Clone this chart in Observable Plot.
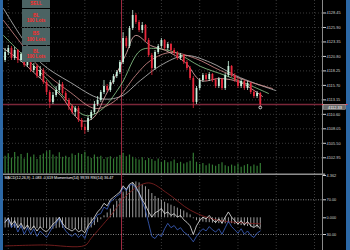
<!DOCTYPE html>
<html><head><meta charset="utf-8">
<script src="https://cdn.jsdelivr.net/npm/d3@7"></script>
<script src="https://cdn.jsdelivr.net/npm/@observablehq/plot@0.6"></script>
<style>
html,body{margin:0;padding:0;background:#000;}
#wrap{position:relative;width:350px;height:250px;background:#000;overflow:hidden;font-family:"Liberation Sans",Arial,sans-serif;}
#wrap svg{position:absolute;left:3px;}
.edge{position:absolute;top:0;height:250px;background:#2c68a6;}
.btn{position:absolute;left:22px;width:28px;background:#4b6363;color:#ff2b2b;font-weight:bold;font-size:4.6px;line-height:5.5px;text-align:center;display:flex;flex-direction:column;justify-content:center;}
</style></head>
<body><div id="wrap">
<div class="edge" style="left:0;width:3px"></div>
<div class="edge" style="left:346px;width:4px"></div>
</div>
<script>
// ---- data ----
const opens = [4120.08,4121.49,4122.20,4120.44,4121.84,4120.08,4121.14,4119.20,4120.08,4118.32,4119.03,4117.26,4118.32,4116.21,4114.45,4112.69,4113.92,4114.80,4115.86,4114.27,4113.04,4111.98,4110.93,4111.63,4109.52,4108.28,4107.75,4109.87,4110.93,4112.33,4113.04,4114.45,4115.50,4114.80,4116.21,4117.26,4117.97,4119.73,4123.96,4122.55,4125.72,4128.01,4126.78,4125.37,4126.25,4123.61,4120.96,4118.67,4121.49,4122.55,4123.61,4122.20,4122.90,4121.84,4121.32,4120.44,4120.96,4119.73,4118.67,4116.91,4112.69,4115.15,4116.56,4117.44,4116.74,4117.62,4116.56,4115.50,4116.74,4115.15,4117.44,4119.03,4117.44,4116.56,4115.50,4116.38,4115.15,4116.03,4114.45,4113.74,4114.27];
const closes = [4121.49,4122.20,4120.44,4121.84,4120.08,4121.14,4119.20,4120.08,4118.32,4119.03,4117.26,4118.32,4116.21,4114.45,4112.69,4113.92,4114.80,4115.86,4114.27,4113.04,4111.98,4110.93,4111.63,4109.52,4108.28,4107.75,4109.87,4110.93,4112.33,4113.04,4114.45,4115.50,4114.80,4116.21,4117.26,4117.97,4119.73,4123.96,4122.55,4125.72,4128.01,4126.78,4125.37,4126.25,4123.61,4120.96,4118.67,4121.49,4122.55,4123.61,4122.20,4122.90,4121.84,4121.32,4120.44,4120.96,4119.73,4118.67,4116.91,4112.69,4115.15,4116.56,4117.44,4116.74,4117.62,4116.56,4115.50,4116.74,4115.15,4117.44,4119.03,4117.44,4116.56,4115.50,4116.38,4115.15,4116.03,4114.45,4113.74,4114.27,4112.33];
const highs = [4122.20,4122.72,4122.55,4122.37,4122.02,4121.49,4121.49,4120.61,4120.44,4119.55,4119.38,4119.03,4118.67,4116.56,4114.80,4114.45,4115.50,4116.56,4116.21,4114.62,4113.39,4112.33,4111.98,4111.98,4109.87,4108.81,4110.22,4111.28,4112.86,4113.74,4114.80,4116.56,4115.86,4116.56,4117.62,4118.32,4120.08,4125.01,4124.31,4126.07,4128.89,4128.36,4127.13,4126.78,4126.42,4123.96,4121.32,4121.84,4122.90,4123.96,4123.78,4123.25,4123.08,4122.20,4121.67,4121.32,4121.14,4120.08,4119.03,4117.26,4115.50,4116.91,4117.79,4117.79,4117.97,4117.79,4116.91,4117.09,4116.91,4117.79,4119.91,4119.20,4117.79,4116.91,4116.74,4116.56,4116.38,4116.21,4114.80,4114.62,4114.45];
const lows = [4119.73,4120.96,4120.08,4120.08,4119.55,4119.73,4118.85,4118.85,4117.97,4117.97,4116.91,4116.91,4115.86,4113.92,4111.63,4112.33,4113.57,4114.27,4113.92,4112.51,4111.28,4110.57,4110.22,4109.16,4107.75,4107.05,4107.40,4109.52,4110.57,4111.98,4112.69,4114.09,4114.45,4114.45,4115.86,4116.91,4117.62,4119.38,4122.20,4122.20,4125.37,4126.42,4125.01,4124.84,4123.25,4120.61,4117.44,4118.32,4121.14,4122.20,4121.84,4121.84,4121.49,4120.96,4120.08,4120.08,4119.38,4118.32,4116.56,4111.63,4112.33,4114.80,4116.21,4116.38,4116.38,4116.21,4115.15,4115.15,4114.80,4114.80,4117.09,4117.09,4116.21,4115.15,4115.15,4114.80,4114.80,4114.09,4113.39,4113.39,4111.81];
const volumes = [62,70,55,75,60,68,52,72,58,66,50,64,70,78,82,66,60,74,58,62,56,70,64,72,68,76,60,54,66,58,62,50,56,60,52,58,64,72,60,66,58,52,48,56,46,54,50,44,52,40,46,38,42,48,36,40,34,38,44,72,40,32,36,28,34,30,26,32,38,28,24,30,26,34,22,28,32,24,30,26,36];
const ma1Idx = [-0.5,4.8,11.1,20.5,29.9,36.2,42.4,48.7,56.5,64.4,72.2,78.5,84.8];
const ma1Val = [4129.24,4124.49,4119.73,4116.21,4113.39,4113.74,4116.56,4119.20,4120.96,4119.73,4117.44,4116.03,4114.80];
const ma2Idx = [-0.5,4.8,11.1,20.5,28.3,34.6,40.9,45.6,51.8,59.7,67.5,75.4,83.8];
const ma2Val = [4127.13,4123.25,4118.67,4114.45,4111.63,4113.04,4117.44,4120.08,4121.49,4120.44,4118.32,4116.56,4115.15];
const ma3Idx = [-0.5,4.8,11.1,18.9,25.2,29.9,36.2,42.4,47.1,53.4,61.3,69.1,76.9,82.6];
const ma3Val = [4124.49,4121.49,4117.97,4113.39,4110.40,4111.28,4115.68,4121.84,4122.20,4121.49,4119.03,4117.44,4115.68,4114.27];
const ma4Idx = [-0.5,4.8,11.1,17.4,23.6,27.4,31.5,37.7,40.9,45.6,50.3,56.5,61.3,67.5,73.8,80.7];
const ma4Val = [4122.20,4120.08,4116.91,4113.92,4109.52,4109.87,4113.92,4120.96,4124.49,4122.73,4121.84,4119.73,4116.56,4116.91,4116.21,4113.74];
const macdHist = [-1.05,-1.0,-1.05,-1.08,-1.1,-1.12,-1.15,-1.12,-1.15,-1.1,-1.12,-1.08,-1.1,-1.15,-1.2,-1.18,-1.12,-1.05,-1.08,-1.1,-1.15,-1.2,-1.22,-1.25,-1.28,-1.3,-1.2,-1.05,
 -0.8,-0.5,-0.2,0.2,0.5,0.9,1.3,1.7,2.0,2.6,2.9,3.3,3.6,3.7,3.6,3.4,3.2,2.9,2.5,2.2,2.0,1.8,1.6,1.45,1.3,1.15,1.0,0.85,0.7,0.5,0.3,-0.1,-0.3,-0.4,-0.45,-0.5,-0.5,-0.55,-0.6,-0.6,-0.65,-0.62,-0.55,-0.6,-0.68,-0.75,-0.8,-0.85,-0.9,-0.95,-1.0,-1.05,-1.083];
const signalIdx = [0,12,25,27,33,39,45,51,58,66,80];
const signalVal = [-2.9,-2.8,-2.85,-2.1,0.2,2.6,3.6,2.5,0.8,-0.2,-0.619];
const rsiVals = [44,49,41,46,38,43,36,41,35,40,34,39,35,33,37,42,45,50,43,38,36,34,37,33,35,32,40,45,
 50,56,60,66,63,70,73,76,79,86,82,88,90,85,78,70,64,56,50,55,57,60,54,56,52,54,50,52,47,44,40,30,40,46,50,48,52,47,44,48,43,50,56,50,46,42,46,41,45,40,38,41,36.47];
const momVals = [100.02,100.04,99.96,100.0,99.92,99.98,99.9,99.96,99.9,99.95,99.88,99.93,99.9,99.87,99.92,99.97,100.0,100.05,99.98,99.93,99.9,99.88,99.91,99.87,99.9,99.86,99.95,99.99,
 100.03,100.08,100.09,100.15,100.13,100.2,100.22,100.25,100.27,100.33,100.3,100.35,100.36,100.32,100.28,100.2,100.12,100.0,99.88,99.86,99.9,99.88,99.95,100.0,99.96,99.98,99.94,99.96,99.92,99.9,99.87,99.83,99.88,99.92,99.95,99.93,99.97,99.94,99.92,99.95,99.9,99.96,100.02,99.97,99.94,99.91,99.95,99.9,99.93,99.89,99.87,99.91,99.93];
const priceTicks = [4102.95,4105.50,4108.05,4110.60,4113.15,4115.70,4118.25,4120.80,4123.35,4125.90,4128.45];
const macdTicks = [4.362,0];
const macdTickLabels = ["4.362","0.000"];
const rsiTicks = [70,30];
const rsiTickLabels = ["70.00","30.00"];
const indicatorLabel = "MACD(12,26,9) -1.083 -0.619 Momentum(14) 99.93 RSI(14) 36.47";
const buttonLines = [["SELL"],["BL","100 Lots"],["BS","100 Lots"],["BL","100 Lots"]];
const markerIndex = 36.5;
const gridIdx = [1,13,25,37,49,61,73,85,97];

// ---- tables ----
const candles = opens.map((o,i)=>({i, open:o, close:closes[i], high:highs[i], low:lows[i], up: closes[i] >= o}));
const lastPrice = closes[closes.length-1];
const vols = volumes.map((v,i)=>({i, v}));
const hist = macdHist.map((v,i)=>({i, v}));
const sig = signalIdx.map((x,k)=>({i:x, v:signalVal[k]}));
const rsi = rsiVals.map((v,i)=>({i, v}));
const mom = momVals.map((v,i)=>({i, v}));
const mas = [[ma1Idx,ma1Val,"#c4c4c4"],[ma2Idx,ma2Val,"#d98e8e"],[ma3Idx,ma3Val,"#8fcf8f"],[ma4Idx,ma4Val,"#ecb4b4"]];

// ---- layout ----
const style = {background:"transparent", color:"#d0d0d0", fontFamily:"Liberation Sans, Arial, sans-serif", fontSize:"3.9px", overflow:"visible"};
const common = {width:343, marginLeft:0, marginRight:24, marginTop:0, marginBottom:0, style};
const xs = {type:"linear", domain:[-0.5,99.5], axis:null};
const grid = {stroke:"#3a3a3a", strokeDasharray:"1,2"};
const upC = "#c9f2de", dnC = "#e8283c";
const wrap = document.getElementById("wrap");
function place(svg, top){ svg.style.top = top + "px"; wrap.appendChild(svg); }

const main = Plot.plot({...common, height:173, x:xs,
  y:{domain:[4100.18,4130.65], axis:"right", ticks:priceTicks, tickFormat:d=>d.toFixed(2), tickSize:3, tickPadding:1, label:null},
  marks:[
    Plot.ruleY(priceTicks, grid),
    Plot.ruleX(gridIdx, grid),
    Plot.ruleY([lastPrice], {x1:-0.5, x2:99.5, stroke:"#7a2638", strokeWidth:1.5}),
    Plot.ruleX([markerIndex], {stroke:"#a02a40"}),
    ...mas.map(([xi,yv,c]) => Plot.line(xi.map((x,k)=>({i:x, v:yv[k]})), {x:"i", y:"v", stroke:c, strokeWidth:0.8, curve:"catmull-rom"})),
    Plot.ruleX(candles, {x:"i", y1:"low", y2:"high", stroke:d=>d.up?upC:dnC, strokeWidth:0.8}),
    Plot.ruleX(candles, {x:"i", y1:"open", y2:"close", stroke:d=>d.up?upC:dnC, strokeWidth:1.8}),
    Plot.dot([candles[candles.length-1]], {x:"i", y:"low", r:1.4, stroke:"#fff", strokeWidth:0.8}),
    Plot.ruleX([99.5], {stroke:"#8a8a8a"}),
    Plot.ruleY([lastPrice], {x1:99.5, x2:107.5, stroke:"#ff3344"}),
    Plot.rect([lastPrice], {x1:99.9, x2:106.9, y1:d=>d-0.95, y2:d=>d-0.05, fill:"#6a6a6a", stroke:"#cfcfcf", strokeWidth:0.4}),
    Plot.text([lastPrice], {x:103.4, y:d=>d-0.5, text:d=>d.toFixed(2), fill:"#fff", fontSize:3.9})
  ]});
place(main, 0);

const vol = Plot.plot({...common, height:28, x:xs, y:{domain:[0,100], axis:null},
  marks:[Plot.ruleX(vols, {x:"i", y1:0, y2:"v", stroke:"#337a33", strokeWidth:1.2})]});
place(vol, 145);

const macdP = Plot.plot({...common, height:77, x:xs,
  y:{domain:[-3.371,4.568], axis:"right", ticks:macdTicks, tickFormat:d=>macdTickLabels[macdTicks.indexOf(d)], tickSize:3, tickPadding:1, label:null},
  marks:[
    Plot.ruleX(gridIdx, grid),
    Plot.ruleY([4.5], {x1:-0.5, x2:100.5, stroke:"#d8d8d8"}),
    Plot.ruleX(hist, {x:"i", y1:0, y2:"v", stroke:"#9c9c9c", strokeWidth:1}),
    Plot.line(sig, {x:"i", y:"v", stroke:"#7a1f1f", strokeWidth:0.9, curve:"catmull-rom"}),
    Plot.ruleX([markerIndex], {stroke:"#a02a40"}),
    Plot.ruleX([99.5], {stroke:"#8a8a8a"}),
    Plot.text([indicatorLabel], {frameAnchor:"top-left", dx:1, dy:3, fill:"#fff", fontSize:3.7})
  ]});
place(macdP, 173);

const momP = Plot.plot({...common, height:77, x:xs, y:{domain:[99.75,100.459], axis:null},
  marks:[Plot.line(mom, {x:"i", y:"v", stroke:"#3f64c8", strokeWidth:0.8})]});
place(momP, 173);

const rsiP = Plot.plot({...common, height:77, x:xs,
  y:{domain:[11.56,100.32], axis:"right", ticks:rsiTicks, tickFormat:d=>rsiTickLabels[rsiTicks.indexOf(d)], tickSize:3, tickPadding:1, label:null},
  marks:[
    Plot.ruleY(rsiTicks, {x1:-0.5, x2:99.5, stroke:"#bdbdbd", strokeDasharray:"1,1.5", strokeWidth:0.7}),
    Plot.line(rsi, {x:"i", y:"v", stroke:"#e6e6e6", strokeWidth:0.8})
  ]});
place(rsiP, 173);

// buttons
const btnTop = [0,9,28,46], btnH = [8,18,17,16];
buttonLines.forEach((lines,k)=>{
  const b = document.createElement("div");
  b.className = "btn";
  b.style.top = btnTop[k] + "px";
  b.style.height = btnH[k] + "px";
  lines.forEach(t=>{ const s=document.createElement("span"); s.textContent=t; b.appendChild(s); });
  wrap.appendChild(b);
});
</script></body></html>
